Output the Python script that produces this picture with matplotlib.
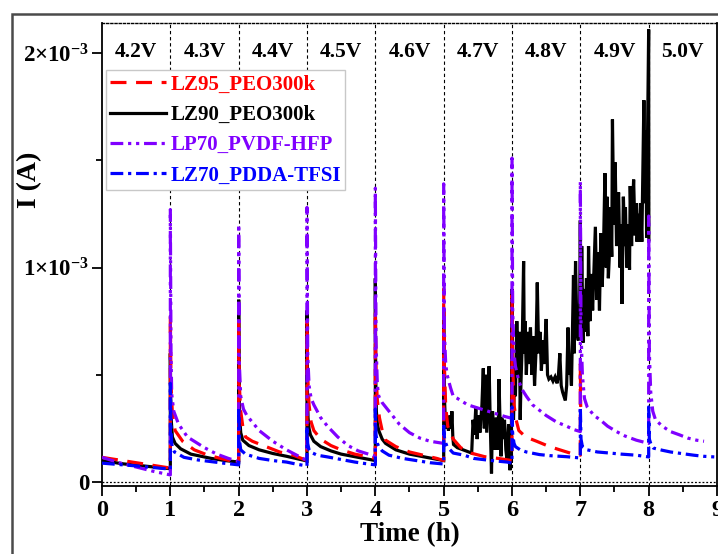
import matplotlib
matplotlib.use("Agg")
import matplotlib.pyplot as plt
from matplotlib.patches import Rectangle
from matplotlib.ticker import FixedLocator, FixedFormatter, MultipleLocator

plt.rcParams['font.family'] = ['Liberation Serif', 'DejaVu Serif']
plt.rcParams['font.weight'] = 'bold'
plt.rcParams['mathtext.fontset'] = 'custom'
plt.rcParams['mathtext.rm'] = 'Liberation Serif:bold'
plt.rcParams['mathtext.bf'] = 'Liberation Serif:bold'
plt.rcParams['mathtext.it'] = 'Liberation Serif:bold:italic'

# ---------------- data (current in mA, time in h) ----------------
voltage_labels = ['4.2V', '4.3V', '4.4V', '4.5V', '4.6V', '4.7V', '4.8V', '4.9V', '5.0V']
step_times = [1, 2, 3, 4, 5, 6, 7, 8]
series_names = ['LZ95_PEO300k', 'LZ90_PEO300k', 'LP70_PVDF-HFP', 'LZ70_PDDA-TFSI']

red_t = [0, 0.5, 1.0,
         1.0, 1.01, 1.03, 1.07, 1.18, 1.35, 1.55, 1.8, 2.0,
         2.0, 2.01, 2.03, 2.06, 2.1, 2.2, 2.4, 2.6, 2.8, 3.0,
         3.0, 3.01, 3.03, 3.06, 3.1, 3.2, 3.35, 3.5, 3.7, 3.9, 4.0,
         4.0, 4.01, 4.03, 4.06, 4.1, 4.15, 4.3, 4.5, 4.7, 4.9, 5.0,
         5.0, 5.01, 5.03, 5.06, 5.14, 5.25, 5.4, 5.6, 5.8, 6.0,
         6.0, 6.01, 6.03, 6.06, 6.1, 6.2, 6.36, 6.55, 6.75, 6.9, 7.0,
         7.0, 7.005]
red_i = [0.115, 0.09, 0.065,
         0.77, 0.45, 0.32, 0.24, 0.19, 0.15, 0.125, 0.105, 0.09,
         0.75, 0.45, 0.33, 0.26, 0.21, 0.19, 0.165, 0.14, 0.125, 0.10,
         0.75, 0.50, 0.36, 0.28, 0.24, 0.20, 0.17, 0.15, 0.13, 0.117, 0.11,
         0.80, 0.50, 0.38, 0.30, 0.24, 0.195, 0.165, 0.14, 0.125, 0.11, 0.10,
         0.90, 0.55, 0.35, 0.26, 0.20, 0.16, 0.135, 0.118, 0.11, 0.10,
         0.87, 0.55, 0.36, 0.29, 0.24, 0.21, 0.19, 0.165, 0.145, 0.13, 0.125,
         0.55, 0.35]

black_t = [0, 0.3, 0.6, 1.0,
           1.0, 1.005, 1.015, 1.03, 1.07, 1.15, 1.3, 1.6, 1.8, 2.0,
           2.0, 2.005, 2.015, 2.03, 2.06, 2.15, 2.3, 2.5, 2.7, 3.0,
           3.0, 3.005, 3.015, 3.03, 3.05, 3.1, 3.2, 3.35, 3.5, 3.75, 4.0,
           4.0, 4.005, 4.015, 4.03, 4.05, 4.1, 4.15, 4.3, 4.5, 4.75, 5.0,
           5.0, 5.005, 5.02, 5.03, 5.05, 5.07, 5.09, 5.11, 5.12, 5.134, 5.144,
           5.2, 5.3, 5.41, 5.43, 5.45, 5.47, 5.49, 5.51, 5.53, 5.56, 5.58,
           5.595, 5.61, 5.63, 5.65, 5.665, 5.68, 5.70, 5.715, 5.73, 5.75,
           5.77, 5.78, 5.80, 5.81, 5.82, 5.84, 5.85, 5.87, 5.89, 5.91, 5.93,
           5.95, 5.96, 5.97, 5.98, 5.99,
           6.0, 6.01, 6.022, 6.04, 6.05, 6.07, 6.09, 6.11, 6.12, 6.13, 6.15,
           6.17, 6.18, 6.19, 6.21, 6.23, 6.25, 6.27, 6.29, 6.31, 6.33, 6.35,
           6.37, 6.39, 6.41, 6.43, 6.45, 6.47, 6.50, 6.52, 6.54, 6.57, 6.60,
           6.63, 6.66, 6.68, 6.70, 6.72, 6.74, 6.76, 6.78, 6.80, 6.82, 6.84,
           6.85, 6.87, 6.90, 6.91, 6.93, 6.95, 6.97, 6.99,
           7.0, 7.01, 7.02, 7.04, 7.06, 7.07, 7.09, 7.11, 7.12, 7.14, 7.16,
           7.18, 7.20, 7.22, 7.24, 7.26, 7.28, 7.30, 7.32, 7.34, 7.36, 7.38,
           7.39, 7.41, 7.43, 7.44, 7.46, 7.47, 7.49, 7.51, 7.53, 7.55, 7.56,
           7.58, 7.60, 7.61, 7.63, 7.65, 7.66, 7.68, 7.70, 7.72, 7.73, 7.75,
           7.76, 7.78, 7.80, 7.82, 7.83, 7.85, 7.86, 7.88, 7.90, 7.93, 7.95,
           7.96, 7.97, 7.98, 8.0, 8.003]
black_i = [0.10, 0.085, 0.075, 0.062,
           0.60, 0.40, 0.28, 0.21, 0.18, 0.155, 0.13, 0.11, 0.10, 0.093,
           0.85, 0.45, 0.30, 0.23, 0.195, 0.17, 0.15, 0.133, 0.12, 0.098,
           0.80, 0.45, 0.30, 0.25, 0.22, 0.19, 0.165, 0.145, 0.13, 0.115, 0.10,
           0.95, 0.50, 0.33, 0.27, 0.24, 0.20, 0.18, 0.15, 0.13, 0.115, 0.10,
           0.80, 0.45, 0.32, 0.25, 0.30, 0.24, 0.31, 0.25, 0.33, 0.21, 0.175,
           0.16, 0.148, 0.135, 0.29, 0.22, 0.35, 0.20, 0.31, 0.23, 0.36, 0.53,
           0.25, 0.50, 0.23, 0.40, 0.54, 0.30, 0.04, 0.33, 0.26, 0.15,
           0.30, 0.15, 0.25, 0.48, 0.34, 0.12, 0.30, 0.20, 0.29, 0.15, 0.095,
           0.27, 0.15, 0.055, 0.20, 0.09,
           0.90, 0.35, 0.29, 0.55, 0.40, 0.75, 0.50, 0.70, 0.29, 0.45, 0.65,
           1.03, 0.60, 0.75, 0.50, 0.70, 0.55, 0.72, 0.50, 0.68, 0.45, 0.60,
           0.93, 0.60, 0.70, 0.52, 0.66, 0.55, 0.76, 0.50, 0.48, 0.49, 0.47,
           0.49, 0.46, 0.50, 0.60, 0.45, 0.42, 0.40, 0.38, 0.45, 0.72, 0.50,
           0.57, 0.45, 0.965, 0.60, 1.03, 0.70, 0.66, 0.80,
           1.22, 0.70, 1.10, 0.65, 0.90, 0.70, 0.95, 0.68, 1.10, 0.75, 0.97,
           0.80, 1.00, 1.19, 0.85, 1.07, 0.80, 1.16, 0.91, 1.10, 1.44, 1.00,
           1.33, 0.95, 1.10, 1.28, 1.05, 1.69, 1.20, 1.49, 1.10, 1.30, 1.35,
           1.00, 1.20, 0.83, 1.33, 1.10, 1.28, 1.00, 1.20, 0.99, 1.38, 1.10,
           1.25, 1.41, 1.15, 1.30, 1.12, 1.25, 1.12, 1.30, 1.12, 1.78, 1.30,
           1.64, 1.14, 1.50, 2.11, 1.13]

purple_t = [0, 0.25, 0.5, 0.75, 1.0,
            1.0, 1.01, 1.02, 1.05, 1.12, 1.25, 1.5, 1.68, 1.85, 2.0,
            2.0, 2.01, 2.03, 2.07, 2.12, 2.3, 2.5, 2.7, 2.85, 3.0,
            3.0, 3.01, 3.03, 3.06, 3.1, 3.2, 3.3, 3.45, 3.6, 3.75, 3.9, 4.0,
            4.0, 4.01, 4.03, 4.05, 4.1, 4.2, 4.35, 4.5, 4.65, 4.8, 5.0,
            5.0, 5.01, 5.03, 5.05, 5.1, 5.14, 5.2, 5.35, 5.5, 5.65, 5.8, 5.9, 6.0,
            6.0, 6.01, 6.03, 6.05, 6.1, 6.15, 6.21, 6.3, 6.5, 6.65, 6.8, 6.9, 7.0,
            7.0, 7.01, 7.03, 7.06, 7.1, 7.2, 7.29, 7.4, 7.53, 7.65, 7.82, 8.0,
            8.0, 8.01, 8.03, 8.06, 8.1, 8.2, 8.32, 8.45, 8.57, 8.7, 8.81]
purple_i = [0.115, 0.09, 0.07, 0.05, 0.033,
            1.27, 0.60, 0.41, 0.33, 0.27, 0.21, 0.16, 0.13, 0.11, 0.095,
            1.20, 0.55, 0.40, 0.34, 0.31, 0.24, 0.19, 0.15, 0.125, 0.10,
            1.28, 0.60, 0.45, 0.39, 0.36, 0.30, 0.26, 0.21, 0.17, 0.145, 0.13, 0.12,
            1.37, 0.65, 0.45, 0.40, 0.37, 0.33, 0.27, 0.23, 0.205, 0.19, 0.18,
            1.39, 0.70, 0.55, 0.50, 0.44, 0.40, 0.39, 0.36, 0.345, 0.33, 0.315, 0.305, 0.297,
            1.51, 0.80, 0.60, 0.54, 0.47, 0.43, 0.40, 0.36, 0.31, 0.28, 0.26, 0.245, 0.235,
            1.40, 0.70, 0.50, 0.39, 0.35, 0.31, 0.29, 0.26, 0.235, 0.215, 0.195, 0.18,
            1.24, 0.60, 0.42, 0.33, 0.29, 0.26, 0.235, 0.22, 0.205, 0.195, 0.19]

blue_t = [0, 0.5, 1.0,
          1.0, 1.01, 1.02, 1.03, 1.06, 1.2, 1.4, 1.6, 1.8, 2.0,
          2.0, 2.01, 2.03, 2.1, 2.3, 2.5, 2.7, 2.85, 3.0,
          3.0, 3.01, 3.03, 3.05, 3.15, 3.3, 3.5, 3.7, 3.85, 4.0,
          4.0, 4.01, 4.03, 4.05, 4.1, 4.2, 4.4, 4.6, 4.8, 5.0,
          5.0, 5.01, 5.02, 5.05, 5.14, 5.3, 5.44, 5.7, 5.93, 6.0,
          6.0, 6.01, 6.03, 6.05, 6.12, 6.21, 6.4, 6.55, 6.8, 7.0,
          7.0, 7.01, 7.03, 7.1, 7.25, 7.43, 7.6, 7.82, 8.0,
          8.0, 8.01, 8.04, 8.07, 8.2, 8.32, 8.5, 8.66, 8.8, 8.96]
blue_i = [0.088, 0.075, 0.06,
          0.46, 0.25, 0.18, 0.16, 0.14, 0.115, 0.103, 0.095, 0.087, 0.08,
          0.35, 0.20, 0.15, 0.13, 0.11, 0.10, 0.093, 0.083, 0.075,
          0.26, 0.18, 0.15, 0.14, 0.125, 0.117, 0.105, 0.093, 0.086, 0.08,
          0.34, 0.22, 0.18, 0.165, 0.145, 0.125, 0.11, 0.10, 0.09, 0.084,
          0.26, 0.21, 0.19, 0.165, 0.135, 0.125, 0.11, 0.10, 0.093, 0.088,
          0.35, 0.22, 0.18, 0.165, 0.15, 0.14, 0.128, 0.123, 0.118, 0.112,
          0.35, 0.20, 0.165, 0.15, 0.14, 0.135, 0.13, 0.125, 0.117,
          0.35, 0.20, 0.17, 0.158, 0.148, 0.14, 0.132, 0.125, 0.12, 0.117]

# ---------------- figure ----------------
W, H = 718, 554
fig = plt.figure(figsize=(W / 100, H / 100), dpi=100)
ax = fig.add_axes([102 / W, 1 - 486 / H, (717 - 102) / W, (486 - 23) / H])

# outer frame of the picture
fig.add_artist(Rectangle((12 / W, -0.1), 1.2, 1 - 14 / H + 0.1, transform=fig.transFigure,
                         fill=False, edgecolor='#4a4a4a', lw=1.8, clip_on=False))

lw = 2.3
def A(vals):
    return [v * 1e-3 for v in vals]

for tv in step_times:
    ax.axvline(tv, color='black', lw=0.8, ls=(0, (3, 2.5)), zorder=1)
ax.axhline(0, color='black', lw=0.9, ls=(0, (1.5, 1.5)), zorder=1)

l_black, = ax.plot(black_t, A(black_i), color='black', lw=lw, solid_joinstyle='miter', zorder=2,
                   label=series_names[1])
l_red, = ax.plot(red_t, A(red_i), color='#ff0000', lw=lw, ls=(0, (5, 3)), zorder=3,
                 label=series_names[0])
l_purple, = ax.plot(purple_t, A(purple_i), color='#8000ff', lw=lw,
                    ls=(0, (4, 1.5, 1, 1.5, 1, 1.5)), zorder=4, label=series_names[2])
l_blue, = ax.plot(blue_t, A(blue_i), color='#0000ff', lw=lw,
                  ls=(0, (4, 1.5, 1, 1.5)), zorder=5, label=series_names[3])

ax.set_xlim(0, 9)
ax.set_ylim(-0.0186e-3, 2.14e-3)

ax.xaxis.set_major_locator(FixedLocator(list(range(10))))
ax.xaxis.set_minor_locator(MultipleLocator(0.5))
ax.yaxis.set_major_locator(FixedLocator([0, 1e-3, 2e-3]))
ax.yaxis.set_major_formatter(FixedFormatter(['0', r'$\mathbf{1{\times}10^{-3}}$', r'$\mathbf{2{\times}10^{-3}}$']))
ax.yaxis.set_minor_locator(FixedLocator([0.5e-3, 1.5e-3]))

ax.tick_params(axis='both', which='major', direction='out', length=7, width=1.3)
ax.tick_params(axis='both', which='minor', direction='out', length=4, width=1.3)
ax.tick_params(axis='x', which='major', pad=3, labelsize=17.5)
ax.tick_params(axis='y', which='major', pad=2, labelsize=16.5)
for lab in ax.get_xticklabels() + ax.get_yticklabels():
    lab.set_fontweight('bold')

for s in ['left', 'bottom', 'right']:
    ax.spines[s].set_linewidth(1.3)
ax.spines['top'].set_linewidth(1.0)
ax.spines['top'].set_linestyle((0, (1.5, 1.5)))

ax.set_xlabel('Time (h)', fontsize=19.5, fontweight='bold', labelpad=1)
ax.set_ylabel('I (A)', fontsize=20, fontweight='bold')
ax.yaxis.set_label_coords(-0.098, 0.661)

for k, lab in enumerate(voltage_labels):
    ax.text(k + 0.5, 2.005e-3, lab, ha='center', va='center', fontsize=15.5, fontweight='bold')

leg = ax.legend(handles=[l_red, l_black, l_purple, l_blue], loc='upper left',
                bbox_to_anchor=(0.006, 0.898), borderaxespad=0, fontsize=15,
                labelcolor='linecolor', handlelength=2.7, handletextpad=0.2,
                labelspacing=0.5, borderpad=0.2, fancybox=False, framealpha=1,
                edgecolor='#c8c8c8')
leg.get_frame().set_linewidth(1.0)
for t in leg.get_texts():
    t.set_fontweight('bold')

fig.savefig('out.png', dpi=100)
